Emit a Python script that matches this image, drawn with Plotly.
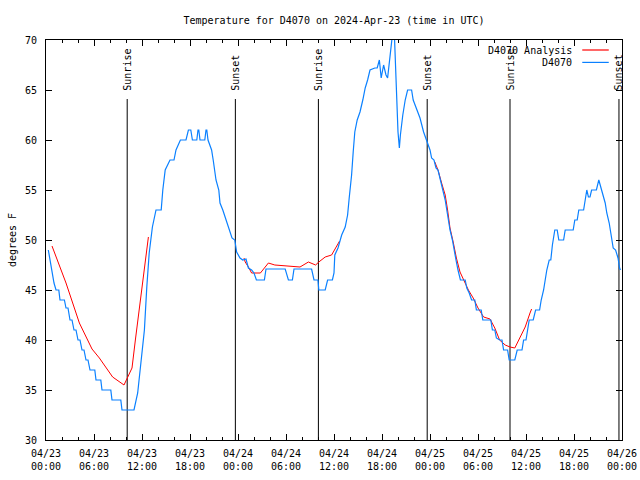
import pandas as pd
import plotly.graph_objects as go

START = pd.Timestamp("2024-04-23 00:00")

# D4070 observed temperature (hours since 04/23 00:00 UTC, degrees F)
obs_hours = [0.29, 0.5, 0.75, 1.0, 1.25, 1.6, 1.75, 2.3, 2.5, 2.75, 3.0, 3.25, 3.5, 3.75, 4.0, 4.25, 4.5, 4.75,
             5.0, 5.25, 5.5, 6.1, 6.25, 6.85, 7.0, 8.1, 8.25, 9.35, 9.5, 11.0, 11.46, 11.9, 12.3, 12.6, 12.9,
             13.3, 13.75, 14.4, 14.6, 14.9, 15.5, 16.0, 16.25, 16.8, 17.5, 17.8, 18.1, 18.3, 18.85, 19.0, 19.1,
             19.25, 19.85, 20.0, 20.1, 20.25, 20.7, 20.9, 21.25, 21.6, 21.75, 22.1, 22.5, 22.8, 23.25, 23.6,
             23.83, 24.25, 24.6, 25.0, 25.3, 25.7, 26.0, 26.3, 27.3, 27.5, 29.9, 30.3, 30.8, 31.0, 33.2, 33.5,
             34.0, 34.1, 34.9, 35.2, 35.8, 36.0, 36.1, 36.5, 36.96, 37.4, 37.7, 37.9, 38.2, 38.4, 38.6, 38.9,
             39.25, 39.6, 39.9, 40.2, 40.5, 41.1, 41.4, 41.67, 41.9, 42.2, 42.5, 42.7, 42.9, 43.1, 43.3, 43.55,
             43.75, 44.0, 44.17, 44.3, 44.6, 44.9, 45.2, 45.7, 45.9, 46.3, 46.75, 47.2, 47.6, 48.0, 48.2, 48.5,
             48.75, 49.0, 49.3, 49.6, 49.9, 50.1, 50.3, 50.5, 50.8, 51.0, 51.25, 51.5, 51.8, 52.4, 52.6, 52.9,
             53.2, 53.6, 53.8, 54.4, 54.6, 55.6, 55.8, 56.1, 56.3, 56.7, 57.0, 57.2, 57.7, 57.9, 58.6, 58.9,
             59.5, 59.7, 60.0, 60.2, 60.4, 60.9, 61.2, 61.7, 61.9, 62.2, 62.4, 62.6, 62.9, 63.1, 63.3, 63.5,
             63.6, 63.9, 64.1, 64.7, 64.9, 65.9, 66.1, 66.4, 66.6, 67.2, 67.4, 67.6, 67.8, 68.0, 68.2, 68.8,
             69.1, 69.4, 69.6, 69.9, 70.1, 70.4, 70.6, 70.9, 71.2, 71.5, 71.7, 71.8]
obs_temps = [49.0, 48, 47, 45.7, 45, 45, 44, 44, 43.2, 43.2, 42, 42, 41, 41, 40, 40, 39, 39,
             38, 38, 37, 37, 36, 36, 35, 35, 34, 34, 33, 33, 34.7, 37.7, 41, 45.3, 48.7,
             51.3, 53, 53, 55, 57, 58, 58, 59, 60, 60, 61, 61, 60, 60, 61, 61,
             60, 60, 61, 61, 60, 59, 58, 56, 55, 53.7, 53, 52, 51.2, 50.2, 50,
             48.8, 48.2, 48, 48.1, 47.2, 47, 46.7, 46, 46, 47.1, 47.1, 46, 46, 47.1, 47.1, 46,
             46, 45, 45, 46, 46, 46.7, 48.5, 49.2, 50.5, 51.3, 52.5, 54.2, 56.5, 58.8, 60.8, 62,
             62.8, 64, 65.2, 66, 67, 67.2, 67.2, 68, 66.2, 67.5, 66.5, 66.2, 67.8, 69.5, 70.5, 70.5,
             65.5, 60.8, 59.2, 60.5, 62.5, 64, 65, 65, 64, 63.2, 62.2, 60.8, 60, 59, 58.2, 58,
             57.2, 57, 56, 55, 54, 53, 52, 51, 50, 49, 48, 47, 46, 46, 45.2, 44.7,
             44, 44, 43, 43, 42, 42, 41, 41, 40.2, 40, 40, 39, 39, 38, 38, 39,
             39, 40, 40, 41, 42, 42, 43, 43, 44, 45, 46, 47, 48, 48, 49.5, 50.3,
             51, 51, 50, 50, 51, 51, 52, 52, 53, 53, 54, 55, 54.3, 54.3, 55, 55,
             56, 55.2, 54.7, 53.7, 52.7, 51.7, 50.7, 49.2, 49, 48.2, 47.2, 47.0]

# D4070 Analysis (None = no analysis)
ana_hours = [0.75, 2.5, 4.17, 5.75, 6.67, 8.33, 9.75, 10.17, 10.75, 11.17, 11.67, 12.3, 12.8, 13.0,
             24.75, 24.9, 25.3, 25.7, 26.8, 27.8, 28.6, 31.1, 31.75, 32.8, 33.7, 34.1, 34.9, 35.7, 36.25, 36.7, 37.0,
             48.6, 49.0, 49.45, 49.9, 50.2, 50.5, 50.9, 51.3, 51.75, 52.2, 52.8, 53.4, 54.0, 54.7, 55.5, 56.1,
             56.7, 57.4, 58.0, 58.6, 59.25, 59.9, 60.5, 60.7]
ana_temps = [49.4, 45.7, 41.7, 39.1, 38.2, 36.3, 35.5, 36.2, 37.2, 40, 43.3, 47.3, 50.3, None,
             48.2, 47.8, 47.3, 46.7, 46.7, 47.7, 47.5, 47.4, 47.3, 47.8, 47.5, 47.8, 48.3, 48.5, 49.3, 49.9, None,
             57.8, 57, 55.7, 54.5, 53, 51.2, 49.8, 48.2, 46.8, 46, 45, 44.2, 43.2, 42.3, 42.1, 41.2,
             40, 39.5, 39.3, 39.2, 40.2, 41.3, 42.7, 43.1]

sun_labels = ["Sunrise", "Sunset", "Sunrise", "Sunset", "Sunrise", "Sunset"]
sun_hours = [10.15, 23.67, 34.05, 47.65, 58.0, 71.62]

TITLE = "Temperature for D4070 on 2024-Apr-23 (time in UTC)"
Y_LABEL = "degrees F"
SERIES = ["D4070 Analysis", "D4070"]
COLORS = ["#ff0000", "#0a80ff"]
FONT = "DejaVu Sans Mono"

W, H = 640, 480


def to_time(hours):
    return [START + pd.Timedelta(hours=h) for h in hours]


fig = go.Figure()
fig.add_trace(go.Scatter(x=to_time(ana_hours), y=ana_temps, mode="lines", name=SERIES[0],
                         line=dict(color=COLORS[0], width=1), connectgaps=False, showlegend=False))
fig.add_trace(go.Scatter(x=to_time(obs_hours), y=obs_temps, mode="lines", name=SERIES[1],
                         line=dict(color=COLORS[1], width=1.2), showlegend=False))

for lab, h in zip(sun_labels, sun_hours):
    t = START + pd.Timedelta(hours=h)
    fig.add_shape(type="line", xref="x", yref="y", x0=t, x1=t, y0=30, y1=64.1,
                  line=dict(color="black", width=1), layer="below")
    fig.add_annotation(x=t, y=64.75, xref="x", yref="y", text=lab, textangle=-90,
                       showarrow=False, xanchor="center", yanchor="bottom",
                       font=dict(family=FONT, size=10, color="black"))

# manual gnuplot-style key (text left, line sample right)
key_y = [0.975, 0.944]
for name, col, ky in zip(SERIES, COLORS, key_y):
    fig.add_annotation(x=0.917, y=ky, xref="paper", yref="paper", text=name, showarrow=False,
                       xanchor="right", yanchor="middle", font=dict(family=FONT, size=10, color="black"))
    fig.add_shape(type="line", xref="paper", yref="paper", x0=0.931, x1=0.977, y0=ky, y1=ky,
                  line=dict(color=col, width=1.2))

fig.update_layout(
    width=W, height=H, autosize=False,
    margin=dict(l=46, r=18, t=40, b=40),
    paper_bgcolor="white", plot_bgcolor="white",
    font=dict(family=FONT, size=10, color="black"),
    title=dict(text=TITLE, x=0.5, xref="paper", y=1 - 20 / H, yanchor="middle",
               font=dict(family=FONT, size=10, color="black")),
    showlegend=False,
)
fig.update_xaxes(
    type="date", range=[START, START + pd.Timedelta(hours=72)],
    tick0=START, dtick=6 * 3600 * 1000, tickformat="%m/%d<br>%H:%M",
    ticks="inside", ticklen=6, tickcolor="black", showline=True, linecolor="black", linewidth=1,
    mirror="ticks", showgrid=False, zeroline=False,
    minor=dict(dtick=2 * 3600 * 1000, ticks="inside", ticklen=3, tickcolor="black", showgrid=False),
    tickfont=dict(family=FONT, size=10, color="black"), ticklabelstandoff=4,
    ticklabeloverflow="allow", automargin=False,
)
fig.update_yaxes(
    range=[30, 70], dtick=5, tick0=30,
    ticks="inside", ticklen=6, tickcolor="black", showline=True, linecolor="black", linewidth=1,
    mirror="ticks", showgrid=False, zeroline=False,
    tickfont=dict(family=FONT, size=10, color="black"), ticklabelstandoff=6,
    title=dict(text=Y_LABEL, standoff=6, font=dict(family=FONT, size=10, color="black")),
    automargin=False,
)

fig.write_html("out.html", config={"displayModeBar": False},
               post_script="document.body.style.margin='0';document.body.style.overflow='hidden';")
